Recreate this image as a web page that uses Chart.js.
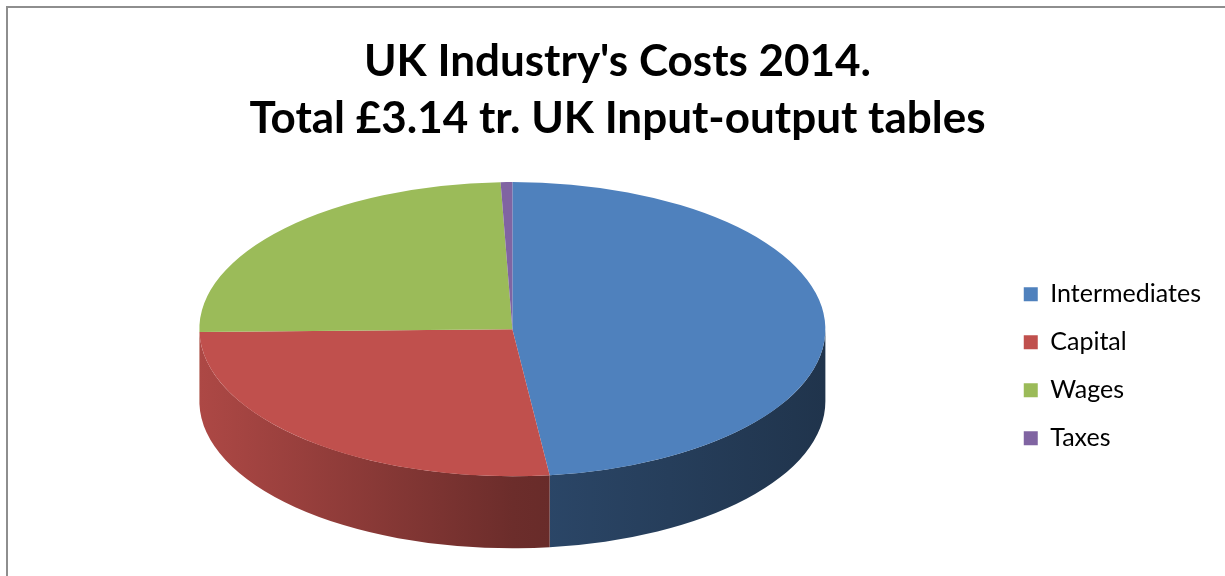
<!DOCTYPE html>
<html>
<head>
<meta charset="utf-8">
<script src="https://cdn.jsdelivr.net/npm/chart.js@4"></script>
<style>
  html, body { margin: 0; padding: 0; background: #fff; }
  #wrap { position: relative; width: 1225px; height: 576px; overflow: hidden; }
  #frame { position: absolute; left: 6px; top: 6px; width: 1230px; height: 600px; border: 2px solid #8e8e8e; }
  #costs { position: absolute; left: 0; top: 0; }
</style>
</head>
<body>
<div id="wrap">
  <div id="frame"></div>
  <canvas id="costs" width="1225" height="576"></canvas>
</div>
<script>
var labels = ['Intermediates', 'Capital', 'Wages', 'Taxes'];
var shares = [48.1, 26.6, 24.7, 0.6];
var colors = ['#4F81BD', '#C0504D', '#9BBB59', '#8064A2'];

// flattening of the top face and height of the cylinder wall
var tilt = 0.47;
var depth = 72;

function shade(hex, f) {
  var n = parseInt(hex.slice(1), 16);
  var r = Math.round(((n >> 16) & 255) * f);
  var g = Math.round(((n >> 8) & 255) * f);
  var b = Math.round((n & 255) * f);
  return 'rgb(' + r + ',' + g + ',' + b + ')';
}

var pie3d = {
  id: 'pie3d',
  beforeDatasetsDraw: function (chart) {
    var ctx = chart.ctx;
    var arcs = chart.getDatasetMeta(0).data;
    if (!arcs.length) return;
    var cx = arcs[0].x, cy = arcs[0].y;
    var R = arcs[0].outerRadius;
    var top = cy - depth / 2;

    // front wall, only the part facing the viewer (0..PI)
    arcs.forEach(function (arc, i) {
      var s = arc.startAngle, e = arc.endAngle;
      var ranges = [[s, e], [s - 2 * Math.PI, e - 2 * Math.PI], [s + 2 * Math.PI, e + 2 * Math.PI]];
      ranges.forEach(function (rg) {
        var a1 = Math.max(rg[0], 0), a2 = Math.min(rg[1], Math.PI);
        if (a2 <= a1) return;
        var grad = ctx.createLinearGradient(cx - R, 0, cx + R, 0);
        grad.addColorStop(0, shade(colors[i], 0.9));
        grad.addColorStop(0.5, shade(colors[i], 0.56));
        grad.addColorStop(1, shade(colors[i], 0.4));
        ctx.save();
        ctx.beginPath();
        ctx.ellipse(cx, top, R, R * tilt, 0, a1, a2, false);
        ctx.ellipse(cx, top + depth, R, R * tilt, 0, a2, a1, true);
        ctx.closePath();
        ctx.fillStyle = grad;
        ctx.fill();
        ctx.restore();
      });
    });

    // squash the pie itself into the top face
    ctx.save();
    ctx.translate(cx, top);
    ctx.scale(1, tilt);
    ctx.translate(-cx, -cy);
  },
  afterDatasetsDraw: function (chart) {
    chart.ctx.restore();
  }
};

new Chart(document.getElementById('costs'), {
  type: 'pie',
  data: {
    labels: labels,
    datasets: [
      {
        data: shares,
        backgroundColor: colors,
        borderWidth: 0,
        clip: false,
      },
    ],
  },
  options: {
    responsive: false,
    animation: false,
    radius: 313,
    layout: {
      padding: { left: 24, right: 14, top: 0, bottom: 0 },
    },
    plugins: {
      title: {
        display: true,
        text: ["UK Industry's Costs 2014.", 'Total £3.14 tr. UK Input-output tables'],
        color: '#000',
        font: { family: 'Lato', size: 44, weight: 'bold', lineHeight: 1.3 },
        padding: { top: 33, bottom: 7 },
      },
      legend: {
        position: 'right',
        // empty title only used to push the items down
        title: { display: true, text: '', font: { size: 12 }, padding: { top: 142, bottom: 0 } },
        labels: {
          color: '#000',
          boxWidth: 14,
          boxHeight: 14,
          padding: 23,
          font: { family: 'Lato', size: 25 },
        },
      },
      tooltip: { enabled: false },
    },
  },
  plugins: [pie3d],
});
</script>
</body>
</html>
